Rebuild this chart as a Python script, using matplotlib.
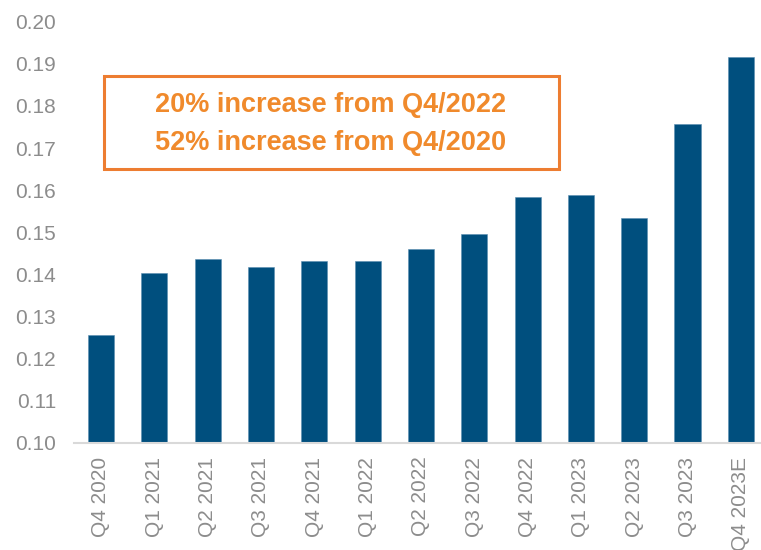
import matplotlib
matplotlib.use('Agg')
import matplotlib.pyplot as plt
from matplotlib.patches import Rectangle

quarters = ['Q4 2020', 'Q1 2021', 'Q2 2021', 'Q3 2021', 'Q4 2021', 'Q1 2022', 'Q2 2022',
            'Q3 2022', 'Q4 2022', 'Q1 2023', 'Q2 2023', 'Q3 2023', 'Q4 2023E']
values = [0.1255, 0.1402, 0.1437, 0.1417, 0.1432, 0.1432, 0.1460,
          0.1497, 0.1584, 0.1588, 0.1533, 0.1758, 0.1917]
y_ticks = [0.10, 0.11, 0.12, 0.13, 0.14, 0.15, 0.16, 0.17, 0.18, 0.19, 0.20]
note_lines = ['20% increase from Q4/2022', '52% increase from Q4/2020']

plt.rcParams['font.family'] = ['Liberation Sans', 'DejaVu Sans']

bar_color = '#004F7E'
grey = '#8C8C8C'
orange = '#F08A2C'

fig = plt.figure(figsize=(7.61, 5.5), dpi=100)
ax = fig.add_axes([0.0976, 0.195, 0.911, 0.7655])

ax.bar(range(len(quarters)), values, width=0.49, color=bar_color,
       edgecolor='#5A8DB0', linewidth=0.4)

ax.set_xlim(-0.5, len(quarters) - 0.5)
ax.set_ylim(0.10, 0.20)
ax.set_yticks(y_ticks)
ax.set_yticklabels(['%.2f' % t for t in y_ticks])
ax.set_xticks(range(len(quarters)))
ax.set_xticklabels(quarters, rotation=90)

for s in ['top', 'right', 'left']:
    ax.spines[s].set_visible(False)
ax.spines['bottom'].set_color('#D9D9D9')
ax.spines['bottom'].set_linewidth(1.5)

ax.tick_params(axis='y', length=0, pad=13, labelsize=15, labelcolor=grey)
ax.tick_params(axis='x', length=0, pad=10, labelsize=15, labelcolor=grey)

# annotation box
fig.patches.append(Rectangle((0.1367, 0.6927), 0.598, 0.169, transform=fig.transFigure,
                             fill=False, edgecolor='#ED7D31', linewidth=2.2))
fig.text(0.435, 0.809, note_lines[0], ha='center', va='center', fontsize=19.5,
         fontweight='bold', color=orange)
fig.text(0.435, 0.740, note_lines[1], ha='center', va='center', fontsize=19.5,
         fontweight='bold', color=orange)

plt.savefig('out.png', dpi=100)
